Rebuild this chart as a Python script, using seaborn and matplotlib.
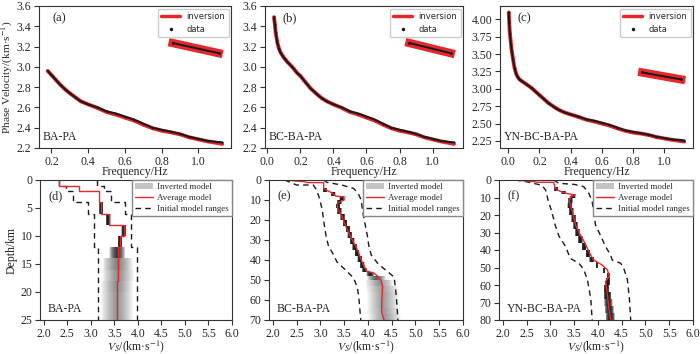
import numpy as np
import pandas as pd
import seaborn as sns
import matplotlib.pyplot as plt
from matplotlib.lines import Line2D
from matplotlib.patches import Patch

# ---- dispersion curves (top row) ----
freq_tail = [0.45, 0.50, 0.55, 0.60, 0.65, 0.70, 0.75, 0.80, 0.85, 0.90, 0.95, 1.00, 1.05, 1.10, 1.13]
vel_tail = [2.60, 2.56, 2.54, 2.51, 2.48, 2.44, 2.40, 2.38, 2.36, 2.34, 2.31, 2.29, 2.27, 2.26, 2.255]
inv_tail = [2.595, 2.555, 2.53, 2.50, 2.47, 2.43, 2.395, 2.37, 2.355, 2.335, 2.305, 2.285, 2.265, 2.25, 2.24]

freq_a = [0.18, 0.20, 0.22, 0.25, 0.28, 0.30, 0.33, 0.36, 0.40]
vel_a = [2.96, 2.92, 2.88, 2.82, 2.77, 2.74, 2.70, 2.66, 2.63]

freq_b = [0.04, 0.045, 0.05, 0.06, 0.07, 0.08, 0.10, 0.12, 0.15, 0.18, 0.20, 0.23, 0.26, 0.30, 0.33, 0.36, 0.40]
vel_b = [3.49, 3.42, 3.34, 3.24, 3.18, 3.14, 3.09, 3.05, 3.00, 2.94, 2.91, 2.85, 2.79, 2.73, 2.69, 2.66, 2.63]

freq_c = [0.003, 0.006, 0.01, 0.02, 0.03, 0.04, 0.05, 0.06, 0.07, 0.08, 0.10, 0.12, 0.15, 0.18, 0.20,
          0.23, 0.26, 0.30, 0.33, 0.36, 0.40]
vel_c = [4.10, 3.95, 3.80, 3.58, 3.43, 3.30, 3.22, 3.17, 3.14, 3.12, 3.09, 3.06, 3.01, 2.95, 2.91,
         2.85, 2.79, 2.73, 2.69, 2.66, 2.63]

# stray segment drawn in every top panel
seg_f = [0.86, 1.11]
seg_v = [3.235, 3.135]

# ---- velocity profiles (bottom row) ----
# (d) BA-PA, layered
avg_bounds_d = [0, 1, 2, 4, 6, 8, 10, 12, 14, 16, 18, 20, 22, 25]
avg_vs_d = [2.33, 2.75, 3.17, 3.22, 3.38, 3.71, 3.63, 3.58, 3.575, 3.57, 3.565, 3.56, 3.55]
min_bounds_d = [0, 1, 2, 4, 6, 12, 25]
min_vs_d = [2.32, 2.47, 2.62, 2.93, 3.06, 3.16]
max_bounds_d = [0, 1, 2, 4, 6, 12, 25]
max_vs_d = [3.13, 3.28, 3.43, 3.73, 3.86, 3.99]
inv_bounds_d = [4, 6, 8, 10, 12, 14, 16, 18, 20, 22, 25]
inv_vs_d = [3.22, 3.37, 3.70, 3.62, 3.56, 3.57, 3.57, 3.56, 3.56, 3.55]
inv_spread_d = [0.045, 0.05, 0.05, 0.05, 0.17, 0.32, 0.34, 0.34, 0.34, 0.34]
inv_dark_d = [1.0, 1.0, 1.0, 1.0, 0.85, 0.55, 0.48, 0.48, 0.45, 0.45]

# (e) BC-BA-PA
avg_vs_e = [2.26, 2.68, 2.72, 3.07, 3.07, 3.12, 3.25, 3.32, 3.50, 3.50, 3.36, 3.36, 3.45, 3.55, 3.65,
            3.74, 3.80, 3.86, 3.92, 3.97, 4.12, 4.20, 4.27, 4.31, 4.30, 4.29, 4.29, 4.34]
avg_dep_e = [0, 0.9, 1.3, 1.3, 4.0, 5.0, 6.5, 8.0, 8.5, 10.0, 11.5, 14.0, 18, 24, 29,
             33, 36, 40, 43, 45.5, 46.5, 48, 50, 53, 57, 62, 66, 70]
min_vs_e = [2.25, 2.50, 2.85, 2.92, 2.98, 3.04, 3.08, 3.12, 3.17, 3.28, 3.35, 3.53, 3.70, 3.78, 3.81, 3.85]
min_dep_e = [0, 2.5, 2.5, 5, 9, 15, 22, 28, 33, 37.5, 41, 45, 49, 54, 59, 70]
max_vs_e = [3.07, 3.14, 3.45, 3.70, 3.80, 3.86, 3.89, 3.94, 3.99, 4.02, 4.07, 4.20, 4.32, 4.45, 4.55, 4.58, 4.61, 4.63]
max_dep_e = [0, 1.2, 2.5, 4.2, 7, 10, 16, 22, 28, 33, 37.5, 41.5, 44, 46.5, 48.5, 54, 62, 70]
inv_bounds_e = [4, 6, 8, 10, 12, 14, 17, 20, 23, 26, 29, 32, 35, 38, 41, 44, 46, 48, 50, 53, 56, 60, 64, 67, 70]
inv_vs_e = [3.10, 3.27, 3.45, 3.40, 3.37, 3.40, 3.47, 3.52, 3.58, 3.62, 3.67, 3.72, 3.77, 3.83, 3.88, 3.93,
            4.05, 4.18, 4.25, 4.30, 4.32, 4.32, 4.33, 4.35]
inv_spread_e = [0.05] * 16 + [0.08, 0.2, 0.3, 0.34, 0.34, 0.34, 0.34, 0.34]
inv_dark_e = [1.0] * 16 + [0.95, 0.7, 0.45, 0.38, 0.38, 0.38, 0.38, 0.38]

# (f) YN-BC-BA-PA
avg_vs_f = [2.26, 2.68, 2.72, 3.07, 3.10, 3.14, 3.32, 3.53, 3.42, 3.40, 3.46, 3.53, 3.60, 3.67, 3.76,
            3.85, 3.91, 4.09, 4.20, 4.24, 4.16, 4.20, 4.23, 4.27]
avg_dep_f = [0, 1.0, 1.3, 1.3, 4.5, 5.7, 7.6, 8.6, 9.5, 12.4, 18, 25.7, 30, 33, 38,
             43, 45.7, 48.6, 51.4, 55, 58, 65.7, 73, 80]
min_vs_f = [2.26, 2.50, 2.82, 2.90, 2.96, 3.03, 3.10, 3.18, 3.32, 3.42, 3.60, 3.70, 3.78, 3.85, 3.88]
min_dep_f = [0, 1.0, 3.0, 5.7, 12.4, 18, 25.7, 32, 38, 44.8, 47.6, 51, 57, 68, 80]
max_vs_f = [3.07, 3.18, 3.50, 3.70, 3.81, 3.88, 3.91, 3.95, 4.06, 4.16, 4.27, 4.30, 4.48, 4.55, 4.62, 4.66, 4.69]
max_dep_f = [0, 1.9, 2.5, 3.8, 7.6, 12.4, 18, 25.7, 32, 38, 43, 45.7, 47.6, 51, 57, 67, 80]
inv_bounds_f = [4, 6, 8, 10, 13, 16, 20, 24, 28, 32, 36, 40, 44, 47, 50, 53, 56, 60, 64, 68, 72, 76, 80]
inv_vs_f = [3.12, 3.28, 3.48, 3.42, 3.41, 3.44, 3.49, 3.53, 3.57, 3.63, 3.71, 3.79, 3.87, 3.98, 4.13,
            4.22, 4.21, 4.18, 4.20, 4.22, 4.24, 4.26]
inv_spread_f = [0.05] * 13 + [0.02, 0.02, 0.03, 0.05, 0.06, 0.08, 0.09, 0.1, 0.1]
inv_dark_f = [1.0] * 19 + [0.95, 0.95, 0.95]

red = '#e8262b'
spine_c = '#333333'

sns.set_theme(style='ticks')
plt.rcParams['font.family'] = 'serif'
plt.rcParams['font.serif'] = ['Liberation Serif', 'DejaVu Serif']
plt.rcParams['mathtext.fontset'] = 'stix'
plt.rcParams['axes.edgecolor'] = spine_c
plt.rcParams['axes.linewidth'] = 0.8

fig = plt.figure(figsize=(7, 3.54), dpi=100)
W, H = 700, 354


def px_axes(x0, y0, x1, y1):
    return fig.add_axes([x0 / W, 1 - y1 / H, (x1 - x0) / W, (y1 - y0) / H])


def style(ax):
    ax.tick_params(labelsize=8.5, length=3.5, width=0.8, color=spine_c, pad=2)
    for s in ax.spines.values():
        s.set_color(spine_c)


# ---------- top row ----------
top = [
    (px_axes(39, 6, 231, 148), freq_a, vel_a, '(a)', 'BA-PA'),
    (px_axes(265, 6, 463, 148), freq_b, vel_b, '(b)', 'BC-BA-PA'),
    (px_axes(500, 6, 693, 148), freq_c, vel_c, '(c)', 'YN-BC-BA-PA'),
]
for i, (ax, f, v, tag, name) in enumerate(top):
    df = pd.DataFrame({'f': f + freq_tail, 'data': v + vel_tail, 'inv': v + inv_tail})
    sns.lineplot(data=df, x='f', y='inv', color=red, lw=2.8, ax=ax, estimator=None, sort=False)
    sns.lineplot(data=df, x='f', y='data', color='k', lw=1.5, ax=ax, estimator=None, sort=False)
    ax.scatter(df['f'], df['data'], s=2, color='k', zorder=3, lw=0)
    ax.plot(seg_f, seg_v, color=red, lw=6, solid_capstyle='projecting')
    ax.plot(seg_f, seg_v, color='k', lw=1.4, marker='.', ms=2)
    style(ax)
    if i < 2:
        ax.set_ylim(2.2, 3.6)
        ax.set_yticks(np.arange(2.2, 3.61, 0.2))
        ax.yaxis.set_major_formatter('{x:.1f}')
    else:
        ax.set_yticks(np.arange(2.25, 4.01, 0.25))
        ax.yaxis.set_major_formatter('{x:.2f}')
    ax.set_xticks(np.arange(0.2 if i == 0 else 0.0, 1.01, 0.2))
    ax.xaxis.set_major_formatter('{x:.1f}')
    ax.set_xlabel('Frequency/Hz', fontsize=8.5, labelpad=-1)
    ax.set_ylabel('Phase Velocity/(km·s$^{-1}$)' if i == 0 else '', fontsize=8.2, labelpad=1)
    ax.text(0.07 if i == 0 else 0.09, 0.915, tag, transform=ax.transAxes, fontsize=9, va='center')
    ax.text(0.02, 0.075, name, transform=ax.transAxes, fontsize=8.5, va='center')
    handles = [Line2D([], [], color=red, lw=2.5),
               Line2D([], [], color='k', marker='.', ms=3, ls='none')]
    ax.legend(handles, ['inversion', 'data'], loc='upper right', prop={'family': 'DejaVu Sans', 'size': 6},
              borderaxespad=0.3, handlelength=2.2, framealpha=1, edgecolor='#cccccc')


# ---------- bottom row ----------
def steps(bounds, vals):
    y = np.repeat(bounds, 2)[1:-1]
    x = np.repeat(vals, 2)
    return x, y


def draw_inverted(ax, bounds, vs, spread, dark, n=16):
    for t, b, c, s, d in zip(bounds[:-1], bounds[1:], vs, spread, dark):
        a = 1 - (1 - min(d, 0.995)) ** (1 / n)
        for k in range(1, n + 1):
            h = s * k / n
            ax.fill_betweenx([t, b], c - h, c + h, color='k', alpha=a, lw=0)


dash = (0, (4, 3))
ax_d = px_axes(40, 180, 232, 320)
draw_inverted(ax_d, inv_bounds_d, inv_vs_d, inv_spread_d, inv_dark_d)
x, y = steps(min_bounds_d, min_vs_d)
ax_d.plot(x, y, color='k', lw=1, ls=dash)
x, y = steps(max_bounds_d, max_vs_d)
ax_d.plot(x, y, color='k', lw=1, ls=dash)
x, y = steps(avg_bounds_d, avg_vs_d)
ax_d.plot(x, y, color=red, lw=1)

ax_e = px_axes(269, 180, 463, 320)
draw_inverted(ax_e, inv_bounds_e, inv_vs_e, inv_spread_e, inv_dark_e)
ax_e.plot(min_vs_e, min_dep_e, color='k', lw=1, ls=dash)
ax_e.plot(max_vs_e, max_dep_e, color='k', lw=1, ls=dash)
ax_e.plot(avg_vs_e, avg_dep_e, color=red, lw=1)

ax_f = px_axes(499, 180, 693, 320)
draw_inverted(ax_f, inv_bounds_f, inv_vs_f, inv_spread_f, inv_dark_f)
ax_f.plot(min_vs_f, min_dep_f, color='k', lw=1, ls=dash)
ax_f.plot(max_vs_f, max_dep_f, color='k', lw=1, ls=dash)
ax_f.plot(avg_vs_f, avg_dep_f, color=red, lw=1)

bottom = [(ax_d, 25, 5, '(d)', 'BA-PA'), (ax_e, 70, 10, '(e)', 'BC-BA-PA'), (ax_f, 80, 10, '(f)', 'YN-BC-BA-PA')]
for i, (ax, dmax, step, tag, name) in enumerate(bottom):
    style(ax)
    ax.set_xlim(1.92, 6.0)
    ax.set_xticks(np.arange(2.0, 6.01, 0.5))
    ax.xaxis.set_major_formatter('{x:.1f}')
    ax.set_ylim(dmax, 0)
    ax.set_yticks(np.arange(0, dmax + 1, step))
    ax.set_xlabel('$V_S$/(km·s$^{-1}$)', fontsize=8.5, labelpad=-1)
    ax.set_ylabel('Depth/km' if i == 0 else '', fontsize=8.5, labelpad=2)
    ax.text(0.045, 0.885, tag, transform=ax.transAxes, fontsize=9, va='center')
    ax.text(0.04, 0.08, name, transform=ax.transAxes, fontsize=8.5, va='center')
    handles = [Patch(facecolor='#c4c4c4', edgecolor='none'),
               Line2D([], [], color=red, lw=1),
               Line2D([], [], color='k', lw=1, ls=dash)]
    ax.legend(handles, ['Inverted model', 'Average model', 'Initial model ranges'], loc='upper right',
              fontsize=6.4, borderaxespad=0, fancybox=False, framealpha=1, edgecolor='#888888',
              handlelength=2.0, labelspacing=0.3, borderpad=0.35, handletextpad=0.5)

fig.savefig('out.png', dpi=100)
